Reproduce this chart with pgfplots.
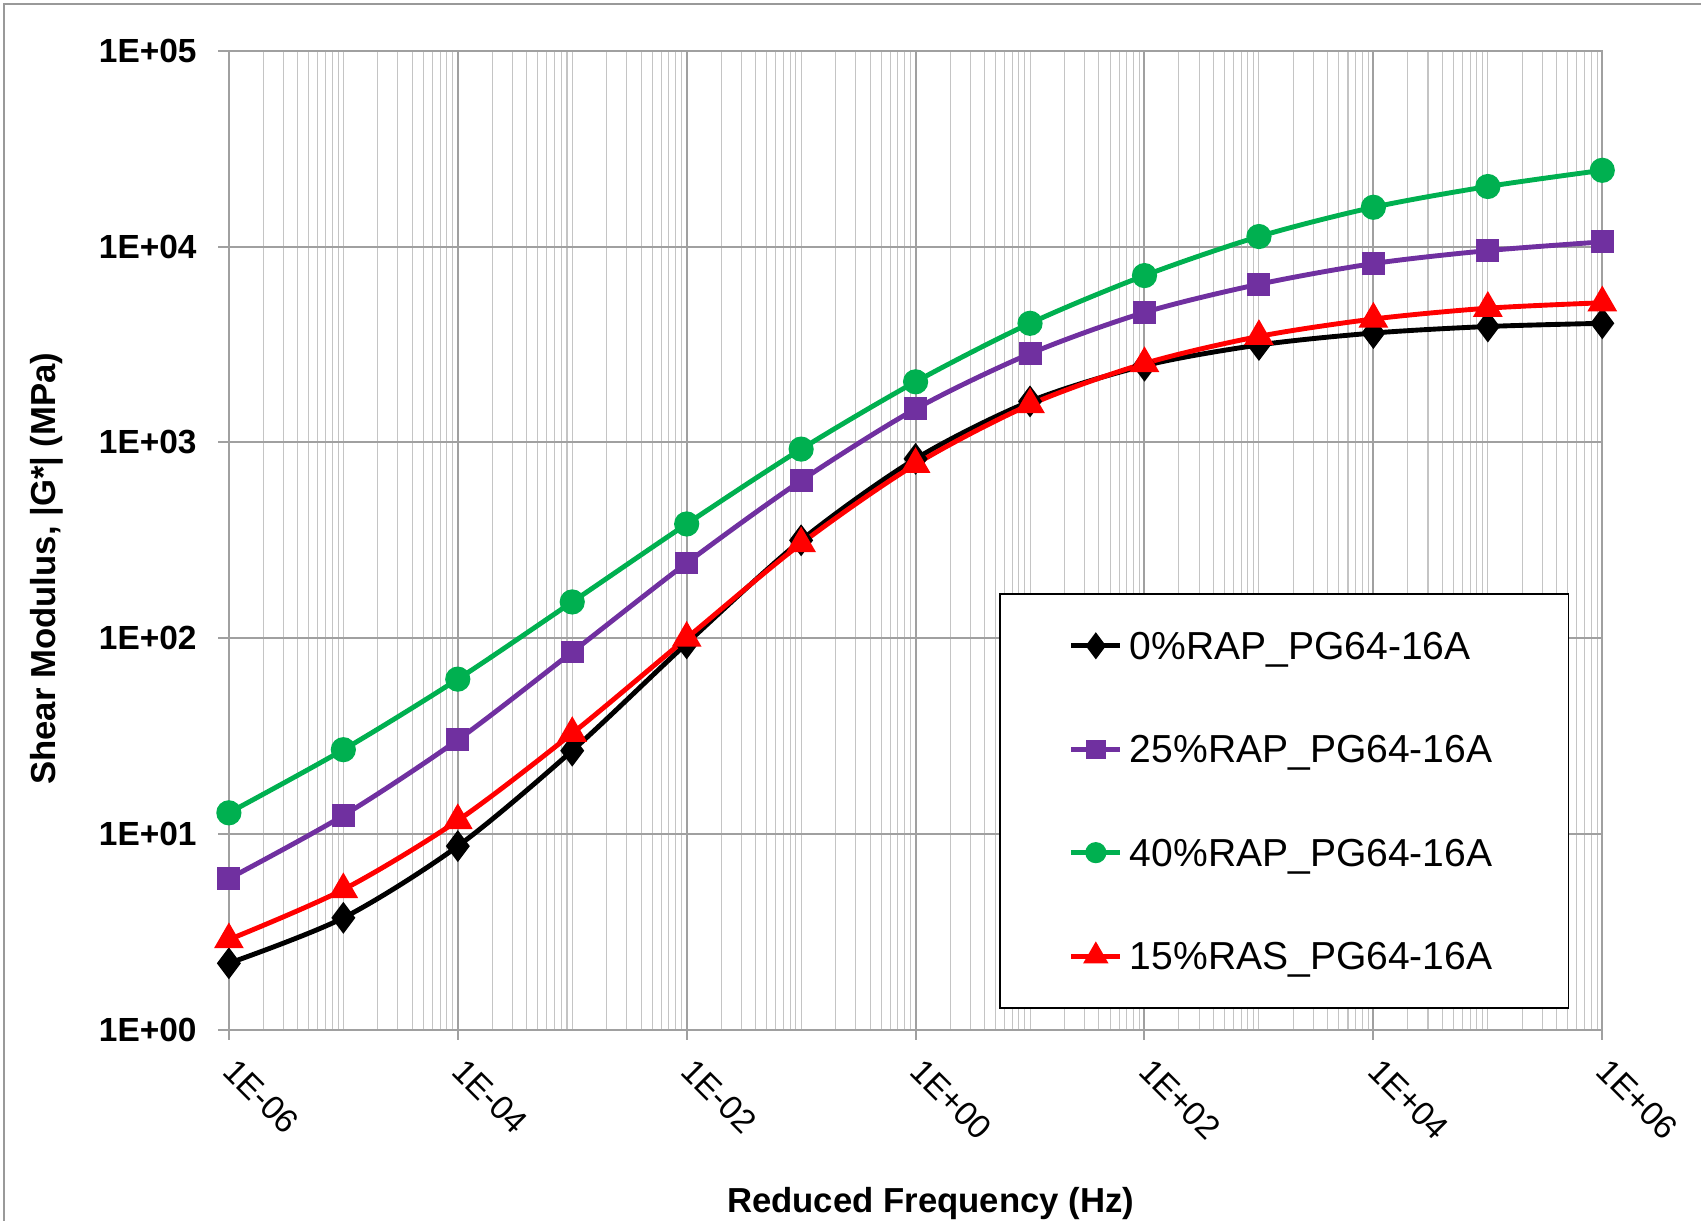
\documentclass[border=0pt]{standalone}
\usepackage{fontspec}
\setmainfont{Liberation Sans}
\usepackage{pgfplots}
\pgfplotsset{compat=1.18}

\definecolor{cBlack}{RGB}{0,0,0}
\definecolor{cPurple}{RGB}{112,48,160}
\definecolor{cGreen}{RGB}{0,176,80}
\definecolor{cRed}{RGB}{255,0,0}
\definecolor{majgrid}{RGB}{160,160,160}
\definecolor{mingrid}{RGB}{196,196,196}

\begin{document}
\begin{tikzpicture}
\useasboundingbox (-63.3pt,-52.8pt) rectangle (407.1pt,284.7pt);
\draw[color=gray!80, line width=0.5pt] (-62.1pt,-70pt) -- (-62.1pt,283.5pt) -- (420pt,283.5pt);
\begin{axis}[
    at={(0,0)}, anchor=south west,
    scale only axis,
    width=379.8pt, height=270.6pt,
    xmode=log, ymode=log,
    xmin=1e-6, xmax=1e6, ymin=1, ymax=1e5,
    xtick={1e-6,1e-4,1e-2,1,1e2,1e4,1e6},
    xticklabels={1E-06,1E-04,1E-02,1E+00,1E+02,1E+04,1E+06},
    ytick={1,10,100,1000,1e4,1e5},
    yticklabels={1E+00,1E+01,1E+02,1E+03,1E+04,1E+05},
    minor xtick={2e-6,3e-6,4e-6,5e-6,6e-6,7e-6,8e-6,9e-6,
                 1e-5,2e-5,3e-5,4e-5,5e-5,6e-5,7e-5,8e-5,9e-5,
                 2e-4,3e-4,4e-4,5e-4,6e-4,7e-4,8e-4,9e-4,
                 1e-3,2e-3,3e-3,4e-3,5e-3,6e-3,7e-3,8e-3,9e-3,
                 2e-2,3e-2,4e-2,5e-2,6e-2,7e-2,8e-2,9e-2,
                 1e-1,2e-1,3e-1,4e-1,5e-1,6e-1,7e-1,8e-1,9e-1,
                 2,3,4,5,6,7,8,9,
                 10,20,30,40,50,60,70,80,90,
                 200,300,400,500,600,700,800,900,
                 1e3,2e3,3e3,4e3,5e3,6e3,7e3,8e3,9e3,
                 2e4,3e4,4e4,5e4,6e4,7e4,8e4,9e4,
                 1e5,2e5,3e5,4e5,5e5,6e5,7e5,8e5,9e5},
    minor ytick={},
    xmajorgrids, ymajorgrids, xminorgrids,
    major grid style={color=majgrid, line width=0.55pt},
    minor grid style={color=mingrid, line width=0.28pt},
    axis line style={color=majgrid, line width=0.55pt},
    tick pos=left,
    tick align=outside,
    major tick length=2.9pt,
    minor tick length=0pt,
    tick style={color=majgrid, line width=0.55pt},
    yticklabel style={xshift=-2.5pt, font=\fontsize{9.25}{11}\selectfont\bfseries},
    xticklabel style={rotate=-45, anchor=north west, xshift=1.5pt, yshift=2.1pt,
        font=\fontsize{9.25}{11}\selectfont},
    xlabel={Reduced Frequency (Hz)},
    ylabel={Shear Modulus, |G*| (MPa)},
    label style={font=\fontsize{9.6}{11}\selectfont\bfseries},
    xlabel style={at={(axis description cs:0.511,-0.1777)}, anchor=center},
    ylabel style={at={(axis description cs:-0.1327,0.471)}, anchor=center},
    legend style={at={(rel axis cs:0.561,0.4457)}, anchor=north west,
        draw=black, line width=0.5pt, fill=white,
        font=\fontsize{10.8}{13}\selectfont,
        inner xsep=19pt, inner ysep=7pt, row sep=14.1pt,
        nodes={text height=9pt, text depth=1.5pt, inner sep=2pt}},
    legend cell align=left,
    legend image code/.code={
        \draw[mark repeat=2,mark phase=2,#1]
            plot coordinates {(0pt,0pt) (6.75pt,0pt) (13.5pt,0pt)};},
    legend image post style={mark options={scale=0.8}},
]
\addplot[color=cBlack, line width=1.35pt, smooth, mark=diamond*, mark size=3.3pt]
coordinates {
(1e-6,2.18) (1e-5,3.72) (1e-4,8.65) (1e-3,26.6) (1e-2,94) (1e-1,316)
(1,824) (1e1,1620) (1e2,2466) (1e3,3146) (1e4,3620) (1e5,3910) (1e6,4060)};
\addlegendentry{0\%RAP\_PG64-16A}
\addplot[color=cPurple, line width=1.35pt, smooth, mark=square*, mark size=2.5pt]
coordinates {
(1e-6,5.9) (1e-5,12.4) (1e-4,30.2) (1e-3,84.9) (1e-2,242) (1e-1,638)
(1,1482) (1e1,2840) (1e2,4614) (1e3,6430) (1e4,8200) (1e5,9550) (1e6,10580)};
\addlegendentry{25\%RAP\_PG64-16A}
\addplot[color=cGreen, line width=1.35pt, smooth, mark=*, mark size=2.8pt]
coordinates {
(1e-6,12.8) (1e-5,26.9) (1e-4,61.7) (1e-3,153) (1e-2,383) (1e-1,924)
(1,2040) (1e1,4060) (1e2,7120) (1e3,11270) (1e4,15900) (1e5,20300) (1e6,24560)};
\addlegendentry{40\%RAP\_PG64-16A}
\addplot[color=cRed, line width=1.35pt, smooth, mark=triangle*, mark size=3.4pt]
coordinates {
(1e-6,2.88) (1e-5,5.19) (1e-4,11.7) (1e-3,32.6) (1e-2,100) (1e-1,304)
(1,773) (1e1,1560) (1e2,2530) (1e3,3480) (1e4,4270) (1e5,4850) (1e6,5170)};
\addlegendentry{15\%RAS\_PG64-16A}
\end{axis}
\end{tikzpicture}
\end{document}
